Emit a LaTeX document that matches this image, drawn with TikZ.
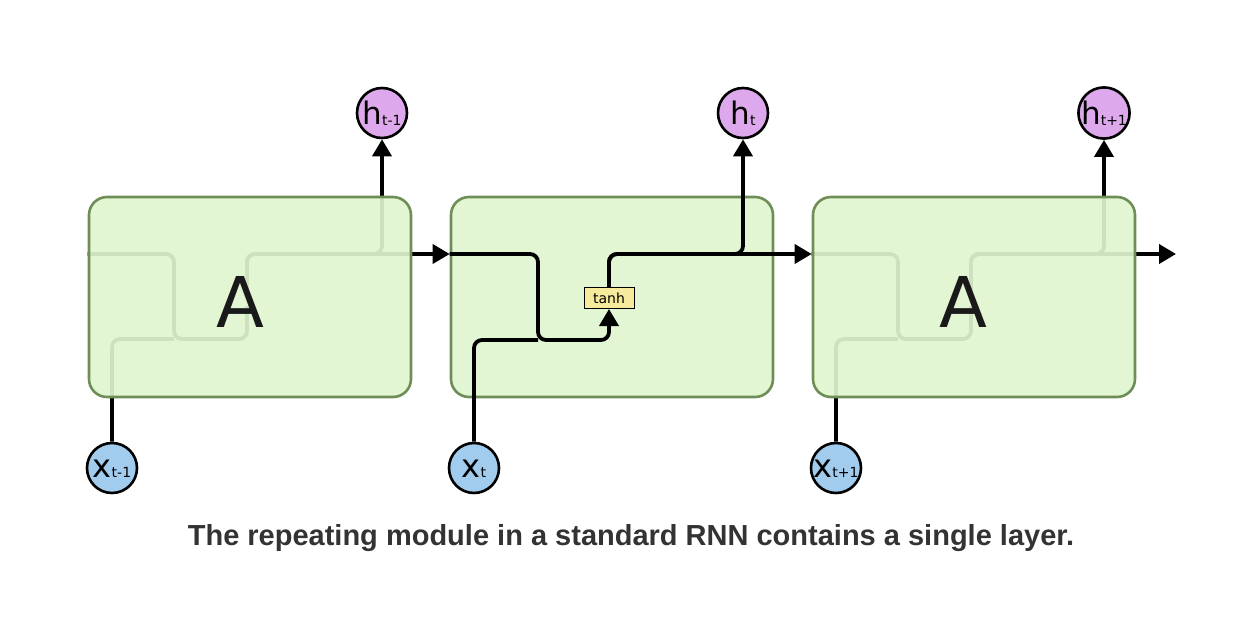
\documentclass[tikz,border=0pt]{standalone}
\usepackage{fontspec}
\setmainfont{DejaVu Sans}
\newfontfamily\capfont{Liberation Sans}
\usepackage{tikz}
\usetikzlibrary{arrows.meta,positioning,calc,backgrounds}
\definecolor{cellfill}{HTML}{DFF5CF}
\definecolor{celldraw}{HTML}{6F8E57}
\definecolor{hfill}{HTML}{DDA9EC}
\definecolor{xfill}{HTML}{A2CCEE}
\definecolor{gatefill}{HTML}{F6EA9C}
\definecolor{captext}{HTML}{333333}
\newcommand{\lowidx}[1]{\raisebox{-0.5pt}{\fontsize{14}{14}\selectfont #1}}

\begin{document}
\begin{tikzpicture}[x=1pt,y=-1pt,
        cell/.style={draw=celldraw,line width=2.6pt,fill=cellfill,fill opacity=0.92,rounded corners=18pt,minimum width=322pt,minimum height=200pt,inner sep=0pt},
        hnode/.style={circle,draw,line width=2.6pt,fill=hfill,minimum size=50pt,inner sep=0pt,text height=23pt,text depth=0pt,font=\fontsize{31}{31}\selectfont},
        xnode/.style={hnode,fill=xfill,text height=18pt,font=\fontsize{32}{32}\selectfont},
        gate/.style={draw,line width=1pt,fill=gatefill,minimum width=50pt,minimum height=21pt,inner sep=0pt,font=\fontsize{14}{14}\selectfont},
        wire/.style={line width=3.8pt,rounded corners=8pt},
        arr/.style={wire,-{Triangle[length=17pt,width=19pt]}},
        bigA/.style={anchor=base,text=black!90,font=\fontsize{70}{70}\selectfont}]
        \useasboundingbox (0,0) rectangle (1256,624);
        \coordinate (st) at (0,254);
        \coordinate (out) at (1176,254);

        \node[cell] (A1) at (250,297) {};
        \node[cell] (A2) at (612,297) {};
        \node[cell] (A3) at (974,297) {};
        \node[bigA] (a1) at (240,327) {A};
        \node[bigA] (a3) at (963,327) {A};

        \node[hnode] (h1) at (382,113) {h\lowidx{t-1}};
        \node[hnode] (h2) at (743,113) {h\lowidx{t}};
        \node[hnode] (h3) at (1104,113) {h\lowidx{t+1}};
        \node[xnode] (x1) at (112,468) {x\lowidx{t-1}};
        \node[xnode] (x2) at (474,468) {x\lowidx{t}};
        \node[xnode] (x3) at (836,468) {x\lowidx{t+1}};
        \node[gate] (g2) at (609,298) {tanh};

        \begin{pgfonlayer}{background}
        \draw[wire] (A1.west |- st) -| (174,339) -| (247,306);
        \draw[wire] (x1) |- (174,339);
        \draw[arr] (247,290) |- (h1 |- st) -- (h1);
        \draw[arr] (247,290) |- (A2.west |- st);
        \draw[wire] (A3.west |- st) -| (898,339) -| (971,306);
        \draw[wire] (x3) |- (898,339);
        \draw[arr] (971,290) |- (h3 |- st) -- (h3);
        \draw[arr] (971,290) |- (out);
        \end{pgfonlayer}

        \draw[arr] (A2.west |- st) -| (538,340) -| (g2.south);
        \draw[wire] (x2) |- (538,340);
        \draw[arr] (g2.north) |- (A3.west |- st);
        \draw[arr] (g2.north) |- (h2 |- st) -- (h2);

        \node[anchor=base,text=captext,font=\capfont\bfseries\fontsize{29}{29}\selectfont] (cap) at (631,545) {The repeating module in a standard RNN contains a single layer.};
    \end{tikzpicture}
\end{document}
